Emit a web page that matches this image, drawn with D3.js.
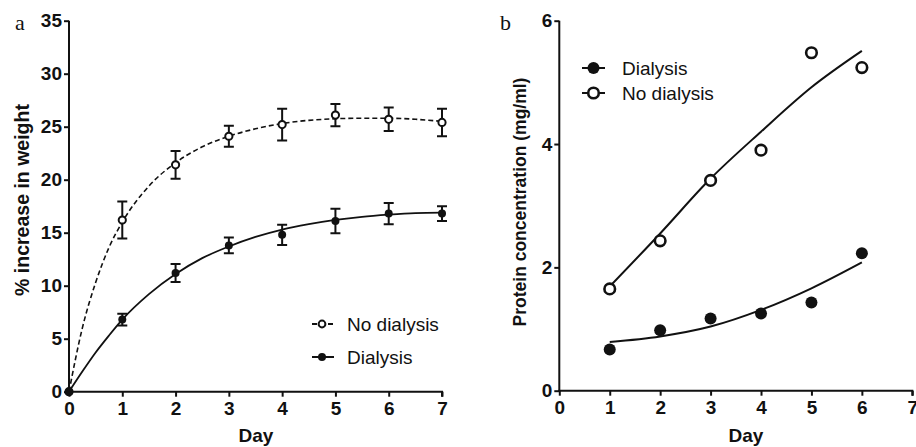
<!DOCTYPE html>
<html>
<head>
<meta charset="utf-8">
<script src="https://cdn.jsdelivr.net/npm/d3@7"></script>
<style>
  body { margin: 0; background: #fff; }
  svg { display: block; }
  text { font-family: "Liberation Sans", Arial, sans-serif; fill: #111; }
  .tick text { font-weight: bold; font-size: 19px; }
  .axis path, .axis line { stroke: #111; stroke-width: 2; }
</style>
</head>
<body>
<div id="chart"></div>
<script>
// panel a: % increase in weight, mean and error per day
const days = [0, 1, 2, 3, 4, 5, 6, 7];
const noDialysisMean = [0, 16.2, 21.4, 24.1, 25.2, 26.1, 25.7, 25.4];
const noDialysisErr = [0, 1.75, 1.3, 1.0, 1.5, 1.05, 1.1, 1.3];
const dialysisMean = [0, 6.8, 11.2, 13.8, 14.8, 16.1, 16.8, 16.8];
const dialysisErr = [0, 0.55, 0.85, 0.75, 0.95, 1.15, 1.0, 0.7];

// fitted curves
const fitDays = [0, 0.25, 0.5, 0.75, 1, 1.5, 2, 2.5, 3, 3.5, 4, 4.5, 5, 5.5, 6, 6.5, 7];
const noDialysisFit = [0, 6, 10.3, 13.6, 16.0, 19.4, 21.6, 23.1, 24.1, 24.8, 25.3, 25.6, 25.75, 25.8, 25.8, 25.7, 25.5];
const dialysisFit = [0, 1.9, 3.7, 5.3, 6.8, 9.2, 11.1, 12.6, 13.7, 14.6, 15.3, 15.8, 16.2, 16.5, 16.7, 16.85, 16.9];

// panel b: protein concentration
const daysB = [1, 2, 3, 4, 5, 6];
const proteinDialysis = [0.67, 0.98, 1.17, 1.25, 1.43, 2.23];
const proteinNoDialysis = [1.65, 2.43, 3.41, 3.90, 5.48, 5.24];
const proteinDialysisFit = [0.79, 0.88, 1.04, 1.31, 1.66, 2.08];
const proteinNoDialysisFit = [1.69, 2.55, 3.44, 4.2, 4.92, 5.51];

const xTicks = [0, 1, 2, 3, 4, 5, 6, 7];
const yTicksA = [0, 5, 10, 15, 20, 25, 30, 35];
const yTicksB = [0, 2, 4, 6];

const W = 916, H = 447;
const svg = d3.select("#chart").append("svg")
    .attr("width", W).attr("height", H)
    .attr("viewBox", `0 0 ${W} ${H}`);

const fmt = d3.format("d");

function drawAxes(x, y, yTicks, yTitle, yTitleX, yTitleY, yTitleSize, dayX, letter, letterX) {
    const y0 = y.range()[0], x0 = x.range()[0];
    svg.append("g").attr("class", "axis")
        .attr("transform", `translate(0,${y0})`)
        .call(d3.axisBottom(x).tickValues(xTicks).tickFormat(fmt).tickSize(5).tickPadding(5).tickSizeOuter(0))
        .call(g => g.select(".domain").attr("d", `M${x.range()[0] - 1},0H${x.range()[1]}V5`));
    svg.append("g").attr("class", "axis")
        .attr("transform", `translate(${x0},0)`)
        .call(d3.axisLeft(y).tickValues(yTicks).tickFormat(fmt).tickSize(5).tickPadding(2).tickSizeOuter(0))
        .call(g => g.select(".domain").attr("d", `M0,${y0 + 1}V${y.range()[1]}`));
    svg.append("text")
        .attr("transform", `translate(${yTitleX},${yTitleY}) rotate(-90)`)
        .attr("text-anchor", "middle")
        .style("font-weight", "bold").style("font-size", yTitleSize + "px")
        .text(yTitle);
    svg.append("text")
        .attr("x", dayX).attr("y", 442)
        .attr("text-anchor", "middle")
        .style("font-weight", "bold").style("font-size", "19px")
        .text("Day");
    svg.append("text")
        .attr("x", letterX).attr("y", 30)
        .style("font-family", "'Liberation Serif', 'Times New Roman', serif")
        .style("font-size", "22px")
        .text(letter);
}

// ---------- panel a ----------
const xA = d3.scaleLinear().domain([0, 7]).range([69, 442]);
const yA = d3.scaleLinear().domain([0, 35]).range([391.7, 20.7]);
drawAxes(xA, yA, yTicksA, "% increase in weight", 29, 200, 19.5, 256, "a", 15);

const lineA = d3.line().x(d => xA(d[0])).y(d => yA(d[1])).curve(d3.curveMonotoneX);
svg.append("path")
    .attr("d", lineA(d3.zip(fitDays, noDialysisFit)))
    .attr("fill", "none").attr("stroke", "#111").attr("stroke-width", 1.6)
    .attr("stroke-dasharray", "5,3");
svg.append("path")
    .attr("d", lineA(d3.zip(fitDays, dialysisFit)))
    .attr("fill", "none").attr("stroke", "#111").attr("stroke-width", 1.8);

function errorBars(mean, err) {
    const g = svg.append("g").attr("stroke", "#111").attr("stroke-width", 2).attr("fill", "none");
    days.forEach((d, i) => {
        if (!err[i]) return;
        const cx = xA(d), top = yA(mean[i] + err[i]), bot = yA(mean[i] - err[i]);
        g.append("path").attr("d", `M${cx},${top}V${bot}M${cx - 5},${top}H${cx + 5}M${cx - 5},${bot}H${cx + 5}`);
    });
}
errorBars(noDialysisMean, noDialysisErr);
errorBars(dialysisMean, dialysisErr);

svg.append("g").selectAll("circle")
    .data(d3.zip(days, noDialysisMean)).join("circle")
    .attr("cx", d => xA(d[0])).attr("cy", d => yA(d[1])).attr("r", 3.6)
    .attr("fill", "#fff").attr("stroke", "#111").attr("stroke-width", 2);
svg.append("g").selectAll("circle")
    .data(d3.zip(days, dialysisMean)).join("circle")
    .attr("cx", d => xA(d[0])).attr("cy", d => yA(d[1])).attr("r", 4)
    .attr("fill", "#111");

// legend a
const legA = [
    {label: "No dialysis", dash: "5,3", open: true, y: 324},
    {label: "Dialysis", dash: null, open: false, y: 357}
];
legA.forEach(l => {
    svg.append("line").attr("x1", 312).attr("x2", 334).attr("y1", l.y).attr("y2", l.y)
        .attr("stroke", "#111").attr("stroke-width", 2)
        .attr("stroke-dasharray", l.dash);
    svg.append("circle").attr("cx", 322).attr("cy", l.y).attr("r", l.open ? 3.4 : 4)
        .attr("fill", l.open ? "#fff" : "#111").attr("stroke", "#111").attr("stroke-width", l.open ? 2 : 0);
    svg.append("text").attr("x", 347).attr("y", l.y + 7).style("font-size", "19px").text(l.label);
});

// ---------- panel b ----------
const xB = d3.scaleLinear().domain([0, 7]).range([559.3, 912.3]);
const yB = d3.scaleLinear().domain([0, 6]).range([390.7, 20.7]);
drawAxes(xB, yB, yTicksB, "Protein concentration (mg/ml)", 526, 202, 17.5, 746, "b", 500);

const lineB = d3.line().x(d => xB(d[0])).y(d => yB(d[1])).curve(d3.curveMonotoneX);
[proteinNoDialysisFit, proteinDialysisFit].forEach(fit => {
    svg.append("path")
        .attr("d", lineB(d3.zip(daysB, fit)))
        .attr("fill", "none").attr("stroke", "#111").attr("stroke-width", 2);
});
svg.append("g").selectAll("circle")
    .data(d3.zip(daysB, proteinNoDialysis)).join("circle")
    .attr("cx", d => xB(d[0])).attr("cy", d => yB(d[1])).attr("r", 5.3)
    .attr("fill", "#fff").attr("stroke", "#111").attr("stroke-width", 2.6);
svg.append("g").selectAll("circle")
    .data(d3.zip(daysB, proteinDialysis)).join("circle")
    .attr("cx", d => xB(d[0])).attr("cy", d => yB(d[1])).attr("r", 6)
    .attr("fill", "#111");

// legend b
const legB = [
    {label: "Dialysis", open: false, y: 68},
    {label: "No dialysis", open: true, y: 93}
];
legB.forEach(l => {
    svg.append("line").attr("x1", 582).attr("x2", 605).attr("y1", l.y).attr("y2", l.y)
        .attr("stroke", "#111").attr("stroke-width", 2);
    svg.append("circle").attr("cx", 593.5).attr("cy", l.y).attr("r", l.open ? 5.3 : 6)
        .attr("fill", l.open ? "#fff" : "#111").attr("stroke", "#111").attr("stroke-width", l.open ? 2.6 : 0);
    svg.append("text").attr("x", 622).attr("y", l.y + 7).style("font-size", "19px").text(l.label);
});
</script>
</body>
</html>
